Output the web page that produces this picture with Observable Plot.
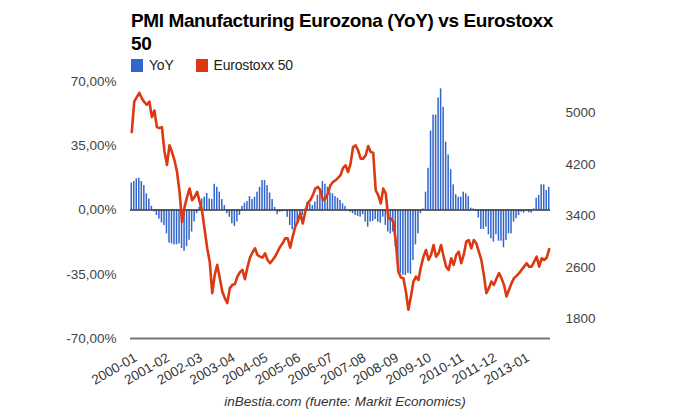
<!DOCTYPE html>
<html>
<head>
<meta charset="utf-8">
<script src="https://cdn.jsdelivr.net/npm/d3@7"></script>
<script src="https://cdn.jsdelivr.net/npm/@observablehq/plot@0.6"></script>
<style>
  html, body { margin: 0; padding: 0; background: #fff; }
  body { width: 680px; height: 420px; position: relative; overflow: hidden;
         font-family: "Liberation Sans", Arial, sans-serif; }
  #title { position: absolute; left: 131px; top: 9px; font-size: 19px; font-weight: bold;
           line-height: 23px; color: #000; letter-spacing: -0.4px; white-space: nowrap; }
  #legend { position: absolute; left: 131px; top: 58px; font-size: 14px; color: #222;
            line-height: 14px; white-space: nowrap; }
  #legend .sw { display: inline-block; width: 12px; height: 13px; vertical-align: -2px; margin-right: 6px; }
  #legend .item { display: inline-block; margin-right: 22px; letter-spacing: -0.2px; }
  #chart { position: absolute; left: 0; top: 75px; }
  #caption { position: absolute; left: 0; width: 690px; text-align: center; top: 394px;
             font-size: 13.5px; font-style: italic; color: #333; }
</style>
</head>
<body>
<div id="title">PMI Manufacturing Eurozona (YoY) vs Eurostoxx<br>50</div>
<div id="legend"></div>
<div id="chart"></div>
<div id="caption">inBestia.com (fuente: Markit Economics)</div>
<script>
// ---- data ----
const startYear = 2000;
const nMonths = 167; // 2000-01 .. 2013-11
const months = [];
for (let k = 0; k < nMonths; k++) {
  const y = startYear + Math.floor(k / 12), m = (k % 12) + 1;
  months.push(y + "-" + String(m).padStart(2, "0"));
}
const tickLabels = ["2000-01","2001-02","2002-03","2003-04","2004-05","2005-06","2006-07",
                    "2007-08","2008-09","2009-10","2010-11","2011-12","2013-01"];
const seriesNames = ["YoY", "Eurostoxx 50"];
const seriesColors = ["#3366cc", "#dc3912"];
const leftTicks = [-70, -35, 0, 35, 70];
const rightTicks = [1800, 2600, 3400, 4200, 5000];
const leftDomain = [-70, 70];
const rightDomain = [1495, 5485];

// PMI manufacturing YoY change (%)
const yoy = [
  14.7, 15.5, 17, 17.3, 15.5, 13.3, 8.8, 6, 2, -1,
  -3, -5, -7, -8.5, -13, -18, -18.5, -19, -19, -18.5,
  -21, -22.5, -20, -16.5, -12, -6.5, -2, 1.5, 6, 7,
  9, 6, 5.7, 14, 12.4, 9.7, 5.7, 2.4, -2, -4,
  -7.5, -9, -6.5, -3, 2, 3.7, 4.6, 7.3, 5.7, 7,
  9.7, 12.4, 16, 16, 13.3, 9.3, 5.7, 1.4, -2.6, -1.2,
  -1, -0.8, -4, -8.4, -10.8, -8.8, -6.6, -5, -3, 0.5,
  4, 3.4, 2.4, 4.3, 8, 11.5, 15.5, 14, 12.4, 9.3,
  8.8, 7.3, 6.4, 5.2, 3.4, 1.9, 0.3, -1.2, -2, -3,
  -3.5, -3.9, -2.6, -6.6, -9.3, -6.6, -6.2, -5.2, -6.6, -7.2,
  -3.9, -8.4, -12, -13, -12, -20, -32, -34.5, -35.6, -35.6,
  -34.5, -35, -27.5, -19, -13, -2, 0.6, 9.7, 22.7, 43,
  51.7, 51.7, 61, 66, 55.9, 36.9, 30, 22, 13.7, 8.3,
  7, 7, 9.7, 8.8, 7.3, 1, 0.6, -0.8, -4.4, -10.6,
  -10.6, -9.3, -13.5, -15.7, -17.5, -13.5, -17, -17, -20.6, -16.6,
  -13, -13, -6.6, -4.8, -3, -1.2, -1.7, -0.8, -1.5, -1.7,
  0.6, 6.4, 7.9, 13.7, 13.7, 10.6, 12.4
];

// Eurostoxx 50 level
const stoxx = [
  4700, 5174, 5241, 5309, 5225, 5164, 5123, 5174, 4932, 5035,
  4777, 4761, 4777, 4400, 4190, 4494, 4390, 4262, 4081, 3771,
  3307, 3539, 3694, 3824, 3643, 3694, 3771, 3617, 3462, 3179,
  2896, 2688, 2200, 2483, 2637, 2432, 2224, 2122, 2045, 2277,
  2328, 2339, 2456, 2524, 2560, 2416, 2600, 2750, 2830, 2896,
  2792, 2766, 2750, 2818, 2715, 2664, 2715, 2766, 2843, 2920,
  2973, 3050, 3050, 2905, 3075, 3230, 3307, 3437, 3282, 3462,
  3601, 3643, 3720, 3824, 3849, 3797, 3643, 3669, 3746, 3875,
  3926, 3950, 3990, 4030, 4143, 4184, 4081, 4210, 4467, 4494,
  4416, 4288, 4288, 4339, 4483, 4390, 4380, 3797, 3720, 3592,
  3824, 3746, 3360, 3360, 3307, 2998, 2534, 2441, 2432, 2224,
  1941, 2147, 2379, 2456, 2405, 2611, 2766, 2869, 2715, 2792,
  2947, 2766, 2818, 2947, 2766, 2611, 2560, 2741, 2637, 2792,
  2843, 2664, 2792, 2998, 3024, 2896, 3024, 2973, 2843, 2715,
  2483, 2200, 2277, 2379, 2328, 2421, 2509, 2432, 2328, 2147,
  2251, 2354, 2432, 2467, 2509, 2560, 2611, 2664, 2611, 2611,
  2688, 2766, 2611, 2741, 2715, 2750, 2885
];

// ---- legend ----
const legend = document.getElementById("legend");
seriesNames.forEach((name, k) => {
  const it = document.createElement("span");
  it.className = "item";
  it.innerHTML = `<span class="sw" style="background:${seriesColors[k]}"></span>${name}`;
  legend.appendChild(it);
});

// ---- secondary axis mapping (right scale onto left scale) ----
const toLeft = v => leftDomain[0] + (v - rightDomain[0]) / (rightDomain[1] - rightDomain[0]) * (leftDomain[1] - leftDomain[0]);
const toRight = p => rightDomain[0] + (p - leftDomain[0]) / (leftDomain[1] - leftDomain[0]) * (rightDomain[1] - rightDomain[0]);

const rows = months.map((m, i) => ({i, month: m, yoy: yoy[i], stoxx: stoxx[i]}));
const tickIdx = tickLabels.map(t => months.indexOf(t));
const fmtPct = d => d.toFixed(2).replace(".", ",") + "%";

const chart = Plot.plot({
  width: 680,
  height: 320,
  marginTop: 6,
  marginBottom: 57,
  marginLeft: 130,
  marginRight: 130,
  style: {fontFamily: '"Liberation Sans", Arial, sans-serif', fontSize: "13.5px", color: "#444", background: "transparent"},
  x: {type: "linear", domain: [-0.5, nMonths - 0.5], axis: null},
  y: {domain: leftDomain, axis: null},
  marks: [
    Plot.rectY(rows, {x1: d => d.i - 0.3, x2: d => d.i + 0.3, y1: 0, y2: "yoy", fill: seriesColors[0]}),
    Plot.ruleY([0], {stroke: "#333", strokeWidth: 1.3}),
    Plot.ruleY([leftDomain[0]], {stroke: "#777", strokeWidth: 2}),
    Plot.lineY(rows, {x: "i", y: d => toLeft(d.stoxx), stroke: seriesColors[1], strokeWidth: 2.6, strokeLinejoin: "round"}),
    Plot.axisY(leftTicks, {anchor: "left", tickFormat: fmtPct, tickSize: 0, tickPadding: 14, label: null, fill: "#444"}),
    Plot.axisY(rightTicks.map(toLeft), {anchor: "right", tickFormat: p => String(Math.round(toRight(p))), tickSize: 0, tickPadding: 15, label: null, fill: "#444"}),
    Plot.axisX(tickIdx, {tickFormat: i => months[i], tickRotate: -30, tickSize: 0, tickPadding: 18, dx: 4, label: null, fill: "#333"})
  ]
});
document.getElementById("chart").appendChild(chart);
</script>
</body>
</html>
